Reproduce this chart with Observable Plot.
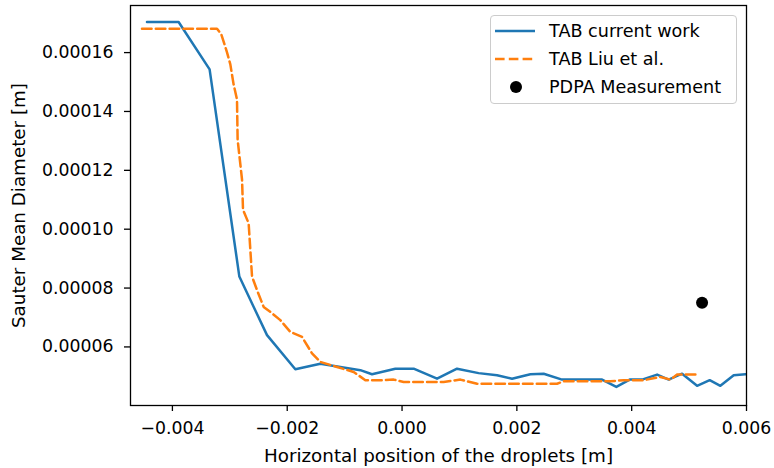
<!DOCTYPE html>
<html>
<head>
<meta charset="utf-8">
<script src="https://cdn.jsdelivr.net/npm/d3@7"></script>
<script src="https://cdn.jsdelivr.net/npm/@observablehq/plot@0.6"></script>
<style>
  html, body { margin: 0; padding: 0; background: white; }
  #wrap { position: relative; width: 774px; height: 468px; font-family: "DejaVu Sans", sans-serif; }
  #legend { position: absolute; left: 490px; top: 15px; width: 247px; height: 89px;
    border: 1px solid #cccccc; border-radius: 4px; background: rgba(255,255,255,0.8); box-sizing: border-box; }
  .row { position: absolute; left: 0; height: 28px; display: flex; align-items: center; font-size: 17.6px; color: black; white-space: nowrap; }
  .row svg { margin-left: 4px; margin-right: 14px; }
</style>
</head>
<body>
<div id="wrap"></div>
<script>
// TAB current work
const blueX = [-0.004443, -0.003892, -0.003352, -0.002834, -0.002352, -0.001859, -0.001423, -0.000726, -0.000523, -0.000117, 0.000202, 0.00061, 0.000958, 0.001334, 0.001655, 0.001916, 0.002235, 0.002467, 0.002787, 0.003484, 0.003733, 0.003965, 0.004181, 0.004443, 0.004645, 0.004878, 0.005139, 0.005359, 0.005545, 0.005777, 0.00598, 0.0062];
const blueY = [0.0001704, 0.0001704, 0.0001543, 0.0000839, 0.000064, 0.0000524, 0.0000543, 0.0000521, 0.0000507, 0.0000526, 0.0000526, 0.0000492, 0.0000526, 0.0000511, 0.0000504, 0.0000492, 0.0000507, 0.0000509, 0.0000489, 0.0000489, 0.0000464, 0.0000489, 0.0000489, 0.0000506, 0.0000489, 0.0000509, 0.0000468, 0.0000487, 0.0000468, 0.0000504, 0.0000507, 0.0000509];
// TAB Liu et al.
const orangeX = [-0.00453, -0.003223, -0.003148, -0.003049, -0.002991, -0.002934, -0.002875, -0.002864, -0.002787, -0.00277, -0.002672, -0.002613, -0.002526, -0.002411, -0.002294, -0.00212, -0.001946, -0.001742, -0.001568, -0.001423, -0.001132, -0.000843, -0.000639, -0.000378, -0.000146, 0.000028, 0.000725, 0.001016, 0.001307, 0.001887, 0.0027, 0.002815, 0.003629, 0.003861, 0.004209, 0.0045, 0.004674, 0.004791, 0.005167];
const orangeY = [0.0001681, 0.0001681, 0.0001662, 0.0001601, 0.000156, 0.0001492, 0.0001441, 0.0001304, 0.0001168, 0.0001066, 0.000102, 0.0000839, 0.0000793, 0.0000736, 0.0000719, 0.0000691, 0.0000651, 0.0000634, 0.0000578, 0.0000549, 0.0000532, 0.0000515, 0.0000487, 0.0000487, 0.0000489, 0.0000481, 0.0000481, 0.0000489, 0.0000475, 0.0000475, 0.0000475, 0.0000483, 0.0000483, 0.0000487, 0.0000487, 0.0000498, 0.0000489, 0.0000506, 0.0000506];
// PDPA Measurement
const pdpaX = [0.005226];
const pdpaY = [0.000075];

const xTicks = [-0.004, -0.002, 0.000, 0.002, 0.004, 0.006];
const yTicks = [0.00006, 0.00008, 0.00010, 0.00012, 0.00014, 0.00016];
const seriesNames = ["TAB current work", "TAB Liu et al.", "PDPA Measurement"];
const colors = ["#1f77b4", "#ff7f0e", "black"];
const xLabel = "Horizontal position of the droplets [m]";
const yLabel = "Sauter Mean Diameter [m]";

const blue = blueX.map((x, i) => ({x, y: blueY[i]}));
const orange = orangeX.map((x, i) => ({x, y: orangeY[i]}));
const pdpa = pdpaX.map((x, i) => ({x, y: pdpaY[i]}));

const chart = Plot.plot({
  width: 774,
  height: 468,
  marginLeft: 130,
  marginRight: 28,
  marginTop: 5,
  marginBottom: 63,
  style: {fontFamily: "DejaVu Sans", fontSize: "17.3px", color: "black", background: "white", overflow: "visible"},
  x: {domain: [-0.00473, 0.006]},
  y: {domain: [0.0000401, 0.000176]},
  marks: [
    Plot.line(blue, {x: "x", y: "y", stroke: colors[0], strokeWidth: 2.5, clip: true}),
    Plot.line(orange, {x: "x", y: "y", stroke: colors[1], strokeWidth: 2.5, strokeDasharray: "9.6,4.2", clip: true}),
    Plot.dot(pdpa, {x: "x", y: "y", r: 6, fill: colors[2], stroke: "none"}),
    Plot.frame({stroke: "black", strokeWidth: 1.3}),
    Plot.axisX({ticks: xTicks, tickSize: 6, tickPadding: 10, strokeWidth: 1.3, fontSize: 17.3,
      tickFormat: d => d.toFixed(3).replace("-", "\u2212"), label: null}),
    Plot.axisX({ticks: [], tickSize: 0, fontSize: 18.3,
      label: xLabel, labelAnchor: "center", labelOffset: 56, labelArrow: false}),
    Plot.axisY({ticks: yTicks, tickSize: 6, tickPadding: 11, strokeWidth: 1.3, fontSize: 17.3,
      tickFormat: d => d.toFixed(5), label: null}),
    Plot.axisY({ticks: [], tickSize: 0, fontSize: 18.3,
      label: yLabel, labelAnchor: "center", labelOffset: 119, labelArrow: false})
  ]
});

const wrap = document.getElementById("wrap");
wrap.appendChild(chart);

const legend = document.createElement("div");
legend.id = "legend";
const rowTops = [1, 28.5, 57];
seriesNames.forEach((name, i) => {
  const row = document.createElement("div");
  row.className = "row";
  row.style.top = rowTops[i] + "px";
  let sample;
  if (i === 0) sample = `<line x1="0" x2="40" y1="7" y2="7" stroke="${colors[0]}" stroke-width="2.5"/>`;
  else if (i === 1) sample = `<line x1="0" x2="40" y1="7" y2="7" stroke="${colors[1]}" stroke-width="2.5" stroke-dasharray="9.6,4.2"/>`;
  else sample = `<circle cx="21" cy="7" r="6" fill="${colors[2]}"/>`;
  row.innerHTML = `<svg width="40" height="14">${sample}</svg><span>${name}</span>`;
  legend.appendChild(row);
});
wrap.appendChild(legend);
</script>
</body>
</html>
